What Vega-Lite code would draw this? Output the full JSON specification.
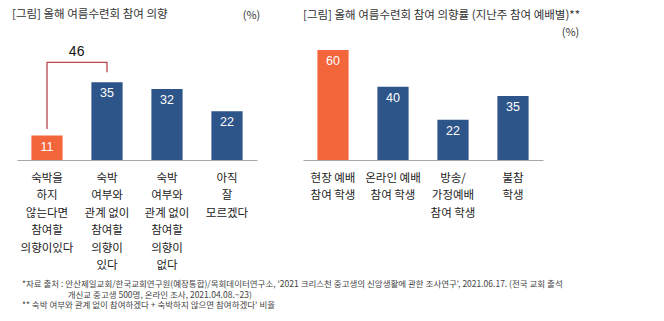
{
  "$schema": "https://vega.github.io/schema/vega-lite/v6.json",
  "padding": {"left": 12, "top": 8, "right": 5, "bottom": 5},
  "bounds": "flush",
  "spacing": 46,
  "background": "white",
  "config": {
    "view": {"stroke": null},
    "font": "Noto Sans CJK KR",
    "title": {"font": "Noto Sans CJK KR", "fontWeight": "normal", "color": "#333333"},
    "axis": {"labelFont": "Noto Sans CJK KR", "titleFont": "Noto Sans CJK KR"}
  },
  "title": {
    "text": [
      "*자료 출처 : 안산제일교회/한국교회연구원(예장통합)/목회데이터연구소, '2021 크리스천 중고생의 신앙생활에 관한 조사연구', 2021.06.17. (전국 교회 출석",
      "\u200b\u00a0\u00a0\u00a0\u00a0\u00a0\u00a0\u00a0\u00a0\u00a0\u00a0\u00a0\u00a0\u00a0\u00a0\u00a0\u00a0\u00a0\u00a0\u00a0\u00a0\u00a0\u00a0\u00a0\u00a0개신교 중고생 500명, 온라인 조사, 2021.04.08.~23)",
      "** 숙박 여부와 관계 없이 참여하겠다 + 숙박하지 않으면 참여하겠다' 비율"
    ],
    "orient": "bottom",
    "anchor": "start",
    "frame": "bounds",
    "fontSize": 8.5,
    "lineHeight": 10.5,
    "color": "#444444",
    "offset": 9,
    "dx": 10
  },
  "hconcat": [
    {
      "width": 240,
      "height": 111,
      "title": {
        "text": "[그림] 올해 여름수련회 참여 의향",
        "anchor": "start",
        "frame": "group",
        "fontSize": 11.5,
        "offset": -11,
        "dx": -5
      },
      "data": {
        "values": [
          {"cat": "숙박을|하지|않는다면|참여할|의향이있다", "value": 11},
          {"cat": "숙박|여부와|관계 없이|참여할|의향이|있다", "value": 35},
          {"cat": "숙박|여부와|관계 없이|참여할|의향이|없다 ", "value": 32},
          {"cat": "아직|잘|모르겠다", "value": 22}
        ]
      },
      "encoding": {
        "x": {
          "field": "cat",
          "type": "nominal",
          "sort": null,
          "scale": {"paddingInner": 0.48, "paddingOuter": 0.24},
          "axis": {
            "title": null,
            "labelAngle": 0,
            "labelExpr": "split(datum.value, '|')",
            "labelFontSize": 11.5,
            "labelLineHeight": 17.5,
            "labelColor": "#222222",
            "labelPadding": 12,
            "labelBaseline": "top",
            "ticks": false,
            "domainColor": "#a6a6a6",
            "domainWidth": 1
          }
        }
      },
      "layer": [
        {
          "mark": {"type": "bar"},
          "encoding": {
            "y": {
              "field": "value",
              "type": "quantitative",
              "scale": {"domain": [0, 50], "nice": false},
              "axis": {
                "orient": "right",
                "title": "(%)",
                "titleAngle": 0,
                "titleX": -6,
                "titleY": -34,
                "titleAlign": "center",
                "titleBaseline": "middle",
                "titleFontSize": 11,
                "titleFontWeight": "normal",
                "titleColor": "#333333",
                "labels": false,
                "ticks": false,
                "domain": false,
                "grid": false
              }
            },
            "color": {
              "condition": {"test": "datum.value == 11", "value": "#f3663b"},
              "value": "#2e5589"
            }
          }
        },
        {
          "mark": {"type": "text", "baseline": "middle", "dy": 11, "fontSize": 12.5, "font": "Liberation Sans", "color": "white"},
          "encoding": {
            "y": {"field": "value", "type": "quantitative"},
            "text": {"field": "value", "type": "quantitative"}
          }
        },
        {
          "data": {
            "values": [
              {"cat": "숙박을|하지|않는다면|참여할|의향이있다", "v": 14, "o": 1},
              {"cat": "숙박을|하지|않는다면|참여할|의향이있다", "v": 44, "o": 2},
              {"cat": "숙박|여부와|관계 없이|참여할|의향이|있다", "v": 44, "o": 3},
              {"cat": "숙박|여부와|관계 없이|참여할|의향이|있다", "v": 39.5, "o": 4}
            ]
          },
          "mark": {"type": "line", "color": "#b9474b", "strokeWidth": 1.3, "interpolate": "linear"},
          "encoding": {
            "y": {"field": "v", "type": "quantitative"},
            "order": {"field": "o", "type": "quantitative"}
          }
        },
        {
          "data": {
            "values": [
              {"cat": "숙박을|하지|않는다면|참여할|의향이있다", "v": 44, "label": "46"}
            ]
          },
          "mark": {"type": "text", "baseline": "middle", "dy": -10, "fontSize": 14, "font": "Liberation Sans", "color": "#111111"},
          "encoding": {
            "x": {"field": "cat", "type": "nominal", "bandPosition": 1.45},
            "y": {"field": "v", "type": "quantitative"},
            "text": {"field": "label"}
          }
        }
      ]
    },
    {
      "width": 240,
      "height": 111,
      "title": {
        "text": "[그림] 올해 여름수련회 참여 의향률 (지난주 참여 예배별)**",
        "anchor": "start",
        "frame": "group",
        "fontSize": 11.5,
        "offset": 5,
        "dx": 0
      },
      "data": {
        "values": [
          {"cat": "현장 예배|참여 학생", "value": 60},
          {"cat": "온라인 예배|참여 학생", "value": 40},
          {"cat": "방송/|가정예배|참여 학생", "value": 22},
          {"cat": "불참|학생", "value": 35}
        ]
      },
      "encoding": {
        "x": {
          "field": "cat",
          "type": "nominal",
          "sort": null,
          "scale": {"paddingInner": 0.48, "paddingOuter": 0.24},
          "axis": {
            "title": null,
            "labelAngle": 0,
            "labelExpr": "split(datum.value, '|')",
            "labelFontSize": 11.5,
            "labelLineHeight": 17.5,
            "labelColor": "#222222",
            "labelPadding": 12,
            "labelBaseline": "top",
            "ticks": false,
            "domainColor": "#a6a6a6",
            "domainWidth": 1
          }
        }
      },
      "layer": [
        {
          "mark": {"type": "bar"},
          "encoding": {
            "y": {
              "field": "value",
              "type": "quantitative",
              "scale": {"domain": [0, 60.6], "nice": false},
              "axis": {
                "orient": "right",
                "title": "(%)",
                "titleAngle": 0,
                "titleX": 27,
                "titleY": -17,
                "titleAlign": "center",
                "titleBaseline": "middle",
                "titleFontSize": 11,
                "titleFontWeight": "normal",
                "titleColor": "#333333",
                "labels": false,
                "ticks": false,
                "domain": false,
                "grid": false
              }
            },
            "color": {
              "condition": {"test": "datum.value == 60", "value": "#f3663b"},
              "value": "#2e5589"
            }
          }
        },
        {
          "mark": {"type": "text", "baseline": "middle", "dy": 11, "fontSize": 12.5, "font": "Liberation Sans", "color": "white"},
          "encoding": {
            "y": {"field": "value", "type": "quantitative"},
            "text": {"field": "value", "type": "quantitative"}
          }
        }
      ]
    }
  ]
}
